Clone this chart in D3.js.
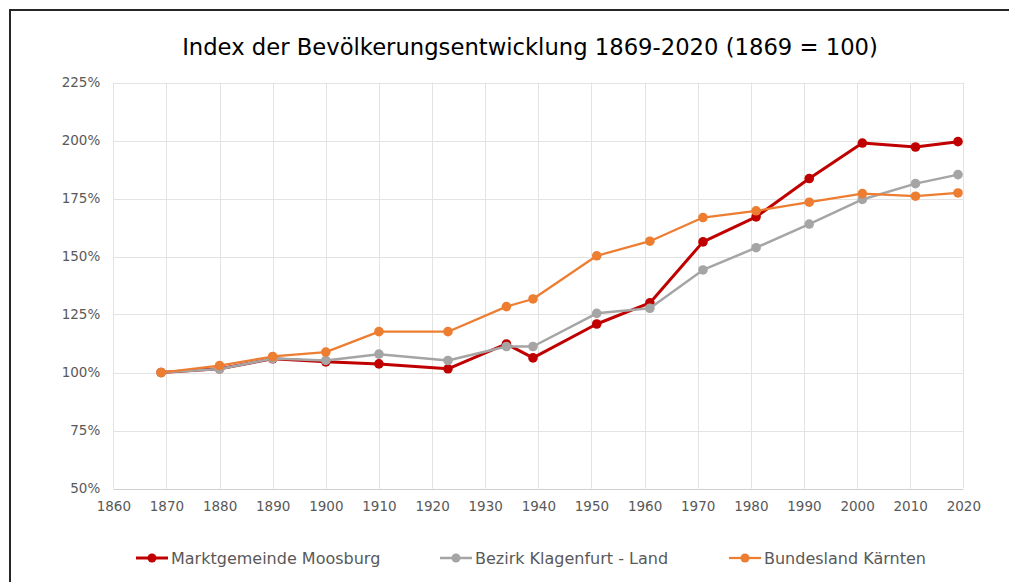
<!DOCTYPE html>
<html><head><meta charset="utf-8">
<script src="https://cdn.jsdelivr.net/npm/d3@7"></script>
<style>html,body{margin:0;padding:0;background:#fff;}svg{display:block;}</style>
</head><body>
<script>
const years = [1869,1880,1890,1900,1910,1923,1934,1939,1951,1961,1971,1981,1991,2001,2011,2019];
const moosburg = [100,101.6,105.9,104.6,103.7,101.6,112.3,106.3,120.9,130.0,156.3,167.1,183.6,198.9,197.2,199.5];
const bezirk   = [100,101.5,106.0,105.2,107.9,105.2,111.2,111.2,125.5,127.7,144.2,153.8,164.0,174.6,181.4,185.3];
const kaernten = [100,103.0,106.9,108.8,117.6,117.6,128.4,131.7,150.3,156.6,166.8,169.7,173.4,177.1,176.0,177.4];
const seriesNames = ["Marktgemeinde Moosburg","Bezirk Klagenfurt - Land","Bundesland Kärnten"];
const xTicks = d3.range(1860,2021,10);
const yTicks = [50,75,100,125,150,175,200,225];
const titleText = "Index der Bevölkerungsentwicklung 1869-2020 (1869 = 100)";

const W=1009,H=582;
const svg=d3.select("body").append("svg").attr("width",W).attr("height",H);
svg.append("rect").attr("x",10).attr("y",10).attr("width",W+20).attr("height",H+20)
  .attr("fill","#fff").attr("stroke","#262626").attr("stroke-width",2);

const x=d3.scaleLinear().domain([1860,2020]).range([113.3,963.3]);
const y=d3.scaleLinear().domain([50,225]).range([488.5,82.5]);

const g=svg.append("g");
g.selectAll(".vg").data(xTicks).join("line")
  .attr("x1",d=>Math.round(x(d))+0.5).attr("x2",d=>Math.round(x(d))+0.5)
  .attr("y1",y(225)).attr("y2",y(50)).attr("stroke","#E3E3E3").attr("stroke-width",1);
g.selectAll(".hg").data(yTicks).join("line")
  .attr("x1",x(1860)).attr("x2",x(2020))
  .attr("y1",d=>Math.round(y(d))+0.5).attr("y2",d=>Math.round(y(d))+0.5)
  .attr("stroke",d=>d===50?"#D0D0D0":"#E3E3E3").attr("stroke-width",1);

const xAxis=d3.axisBottom(x).tickValues(xTicks).tickFormat(d3.format("d")).tickSize(0).tickPadding(13);
const yAxis=d3.axisLeft(y).tickValues(yTicks).tickFormat(d=>d+"%").tickSize(0).tickPadding(13);
const gx=svg.append("g").attr("transform",`translate(0,${y(50)})`).call(xAxis);
const gy=svg.append("g").attr("transform",`translate(${x(1860)},0)`).call(yAxis);
[gx,gy].forEach(a=>{a.select(".domain").remove();
  a.selectAll("text").attr("fill","#595959").style("font-family","DejaVu Sans").style("font-size","13.5px");});

svg.append("text").attr("x",530).attr("y",55).attr("text-anchor","middle")
  .style("font-family","DejaVu Sans").style("font-size","22.7px").attr("fill","#000")
  .text(titleText);

const data=[moosburg,bezirk,kaernten];
const colors=["#C00000","#A5A5A5","#ED7D31"];
const widths=[3,2.5,2.25];
const line=d3.line().x((d,i)=>x(years[i])).y(d=>y(d));
data.forEach((s,k)=>{
  const sg=svg.append("g");
  sg.append("path").datum(s).attr("d",line).attr("fill","none")
    .attr("stroke",colors[k]).attr("stroke-width",widths[k]).attr("stroke-linejoin","round");
  sg.selectAll("circle").data(s).join("circle")
    .attr("cx",(d,i)=>x(years[i])).attr("cy",d=>y(d)).attr("r",4.8).attr("fill",colors[k]);
});

const legX=[136,440,729];
const leg=svg.append("g");
seriesNames.forEach((n,k)=>{
  const lg=leg.append("g").attr("transform",`translate(${legX[k]},558)`);
  lg.append("line").attr("x1",0).attr("x2",32).attr("y1",0).attr("y2",0)
    .attr("stroke",colors[k]).attr("stroke-width",widths[k]);
  lg.append("circle").attr("cx",16).attr("cy",0).attr("r",4.5).attr("fill",colors[k]);
  lg.append("text").attr("x",35).attr("y",0).attr("dy","0.35em").attr("fill","#595959")
    .style("font-family","DejaVu Sans").style("font-size","16px").text(n);
});
</script>
</body></html>
